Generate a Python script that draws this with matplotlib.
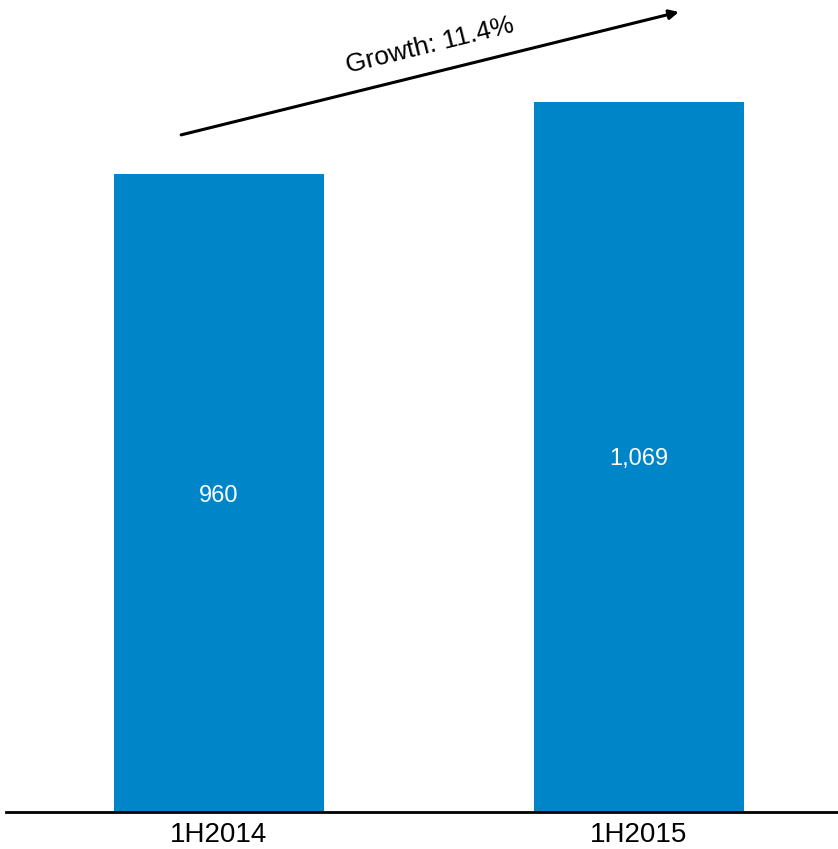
import matplotlib
matplotlib.use("Agg")
import matplotlib.pyplot as plt

plt.rcParams['font.family'] = ['Liberation Sans', 'DejaVu Sans']

# Данные
periods = ['1H2014', '1H2015']
values = [960, 1069]
value_labels = ['960', '1,069']
growth_text = 'Growth: 11.4%'

bar_color = '#0086c8'

fig = plt.figure(figsize=(8.38, 8.49), dpi=100)
ax = fig.add_axes([6 / 838, 37 / 849, 832 / 838, 812 / 849])

x = list(range(len(periods)))
bars = ax.bar(x, values, width=0.5, color=bar_color)

# Подписи внутри столбцов
for b, lab in zip(bars, value_labels):
    ax.text(b.get_x() + b.get_width() / 2, b.get_height() / 2, lab,
            ha='center', va='center_baseline', color='white', fontsize=17)

ax.set_xlim(-0.506, 1.475)
ax.set_ylim(0, 1222)

ax.set_xticks(x)
ax.set_xticklabels(periods, fontsize=20)
ax.tick_params(axis='x', length=0, pad=7)
ax.set_yticks([])

for s in ['top', 'right', 'left']:
    ax.spines[s].set_visible(False)
ax.spines['bottom'].set_linewidth(2)
ax.spines['bottom'].set_color('black')

# Стрелка роста
ax.annotate('', xy=(1.096, 1204), xytext=(-0.089, 1019),
            arrowprops=dict(arrowstyle='-|>', color='black', lw=2.2,
                            mutation_scale=14, shrinkA=0, shrinkB=0))
ax.text(0.504, 1153, growth_text, rotation=13.9, rotation_mode='anchor',
        ha='center', va='center', fontsize=19, clip_on=False)

fig.savefig('out.png', dpi=100)
